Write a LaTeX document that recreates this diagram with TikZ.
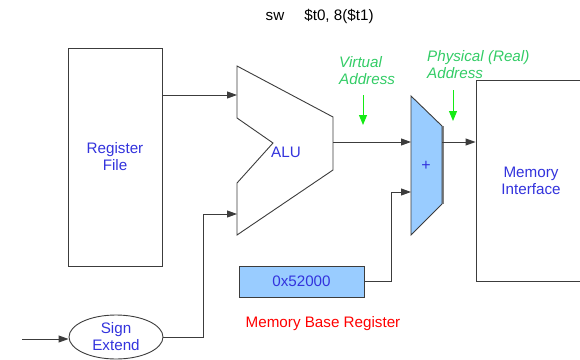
\documentclass[tikz,border=0pt]{standalone}
\usepackage{fontspec}
\setmainfont{Liberation Sans}
\usetikzlibrary{arrows.meta,shapes.geometric}
\definecolor{txtblue}{RGB}{51,51,221}
\definecolor{txtgreen}{RGB}{51,204,102}
\definecolor{arrgreen}{RGB}{20,235,20}
\definecolor{boxblue}{RGB}{153,204,255}
\definecolor{linegray}{RGB}{60,60,60}
\begin{document}
\begin{tikzpicture}[x=1pt,y=-1pt,
  font=\fontsize{15.2}{17}\selectfont,
  block/.style={draw=linegray, line width=0.9pt, fill=white, inner sep=0pt, align=center, text=txtblue},
  wire/.style={draw=linegray, line width=0.9pt},
  arr/.style={wire, -{Triangle[length=10pt,width=7pt]}},
  garr/.style={draw=arrgreen, line width=1pt, -{Triangle[length=10pt,width=8pt]}},
  gtext/.style={text=txtgreen, font=\fontsize{15.2}{17}\selectfont\itshape, align=left, inner sep=0pt, anchor=north west},
  btext/.style={text=txtblue, inner sep=0pt, align=center}]
\useasboundingbox (0,0) rectangle (580,359);
\clip (0,0) rectangle (580,359);

% title
\node[inner sep=0pt] (sw) at (275,16) {sw};
\node[inner sep=0pt] (args) at (339,16) {\$t0, 8(\$t1)};

% register file
\node[block, minimum width=94pt, minimum height=218pt] (rf) at (115,157) {Register\\File};

% ALU
\coordinate (alutl) at (237,66);
\coordinate (alutr) at (333,117);
\coordinate (alubr) at (333,170);
\coordinate (alubl) at (237,235);
\coordinate (alun1) at (237,118);
\coordinate (alunotch) at (273,143);
\coordinate (alun2) at (237,183);
\draw[wire, fill=white] (alutl) -- (alutr) -- (alubr) -- (alubl) -- (alun2) -- (alunotch) -- (alun1) -- cycle;
\node[btext] (alu) at (286,152) {ALU};
\coordinate (aluin1) at (237,95);
\coordinate (aluin2) at (237,214);
\coordinate (aluout) at (333,142);

% adder
\coordinate (addtl) at (411,96);
\coordinate (addtr) at (442,126);
\coordinate (addbr) at (442,204);
\coordinate (addbl) at (411,235);
\draw[draw=gray, line width=2pt] (443,126) -- (443,204);
\draw[wire, fill=boxblue] (addtl) -- (addtr) -- (addbr) -- (addbl) -- cycle;
\node[btext, font=\fontsize{16}{17}\selectfont] (add) at (426,166) {+};
\coordinate (addin1) at (411,142);
\coordinate (addin2) at (411,192);
\coordinate (addout) at (442,142);

% memory interface
\node[block, minimum width=110pt, minimum height=201pt] (mem) at (531,180.5) {Memory\\Interface};

% base register
\node[block, fill=boxblue, minimum width=125pt, minimum height=31pt] (base) at (301.5,281.5) {0x52000};
\node[text=red, inner sep=0pt] (baselbl) at (323,324) {Memory Base Register};

% sign extend
\node[draw=linegray, line width=0.9pt, ellipse, fill=white, inner sep=0pt, minimum width=94pt, minimum height=44pt, align=center, text=txtblue] (se) at (116,337) {Sign\\Extend};
\coordinate (sein) at (22,339);

% connectors
\draw[arr] (rf.east |- aluin1) -- (aluin1);
\draw[arr] (se.east) -| (203,214) -- (aluin2);
\draw[arr] (sein) -- (se.west |- sein);
\draw[arr] (aluout) -- (addin1);
\draw[arr] (addout) -- (mem.west |- addout);
\draw[arr] (base.east) -| (391,192) -- (addin2);

% address labels
\node[gtext] (vlbl) at (339,56) {Virtual\\Address};
\node[gtext] (plbl) at (427,50) {Physical (Real)\\Address};
\coordinate (va1) at (363,95);
\coordinate (va2) at (363,125);
\coordinate (pa1) at (453,90);
\coordinate (pa2) at (453,121);
\draw[garr] (va1) -- (va2);
\draw[garr] (pa1) -- (pa2);
\end{tikzpicture}
\end{document}
